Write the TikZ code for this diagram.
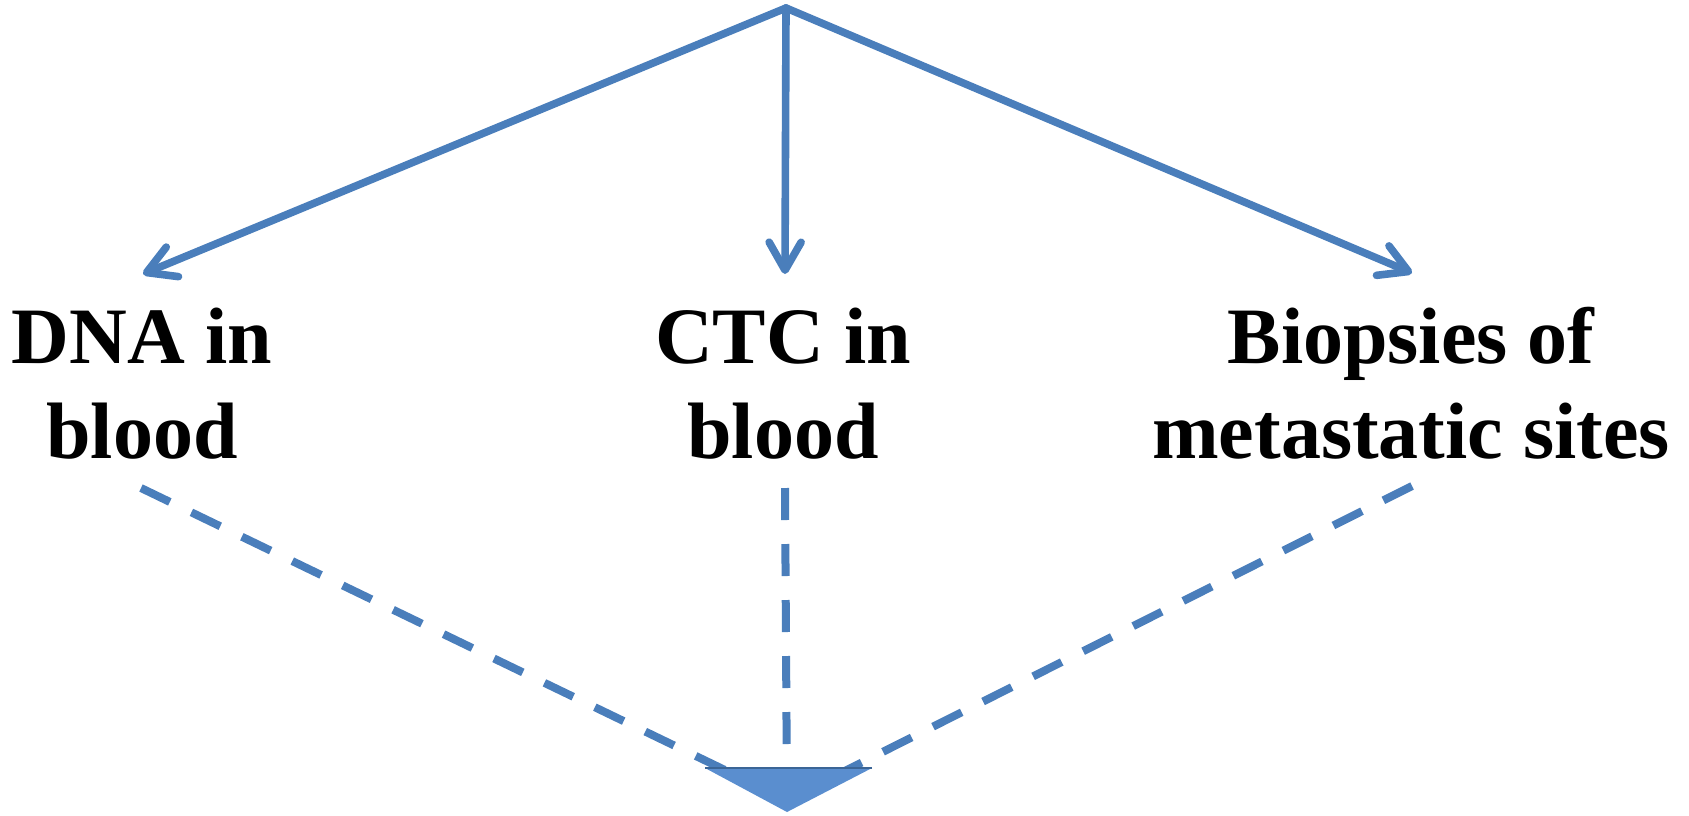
\documentclass[tikz,border=0pt]{standalone}
\usepackage{fontspec}
\setmainfont{Liberation Serif}
\usepackage{tikz}
\usetikzlibrary{arrows.meta}

\definecolor{linkblue}{HTML}{4A7EBB}
\definecolor{headblue}{HTML}{5A8ECF}

\tikzset{
    sampletext/.style={font=\fontsize{40}{47.5}\selectfont\bfseries, align=center, anchor=base, inner sep=0pt},
    takelink/.style={draw=linkblue, line width=3.8pt, line cap=round, -{Straight Barb[length=14pt, width=16pt, round]}},
    mergelink/.style={draw=linkblue, line width=4pt, dash pattern=on 16pt off 12pt},
    mergehead/.style={fill=headblue}
}

\begin{document}
\begin{tikzpicture}[x=0.5pt, y=-0.5pt]
    \useasboundingbox (0,0) rectangle (1689,815);

    % source and merge point
    \coordinate (src) at (786,8);
    \coordinate (merge) at (787,800);

    % sample types (base = last line)
    \node[sampletext] (dna) at (142,458) {DNA in\\blood};
    \node[sampletext] (ctc) at (783,458) {CTC in\\blood};
    \node[sampletext] (bio) at (1411,458) {Biopsies of\\metastatic sites};

    % arrow tips above and dash starts below the texts
    \coordinate (dnatop) at (143,274);
    \coordinate (ctctop) at (785,274);
    \coordinate (biotop) at (1412,273);
    \coordinate (dnabot) at (141,488);
    \coordinate (ctcbot) at (785,488);
    \coordinate (biobot) at (1412,486);

    % solid arrows from the source
    \foreach \tip in {dnatop, ctctop, biotop}
    {
        \draw[takelink] (src) -- (\tip);
    }

    % dashed lines down to the merge point
    \foreach \start in {dnabot, ctcbot, biobot}
    {
        \draw[mergelink] (\start) -- (merge);
    }

    % big head at the bottom
    \fill[mergehead] (705,768) -- (872,768) -- (787,812) -- cycle;
    \draw[linkblue!80!black, line width=0.6pt] (705,768) -- (872,768);
\end{tikzpicture}
\end{document}
